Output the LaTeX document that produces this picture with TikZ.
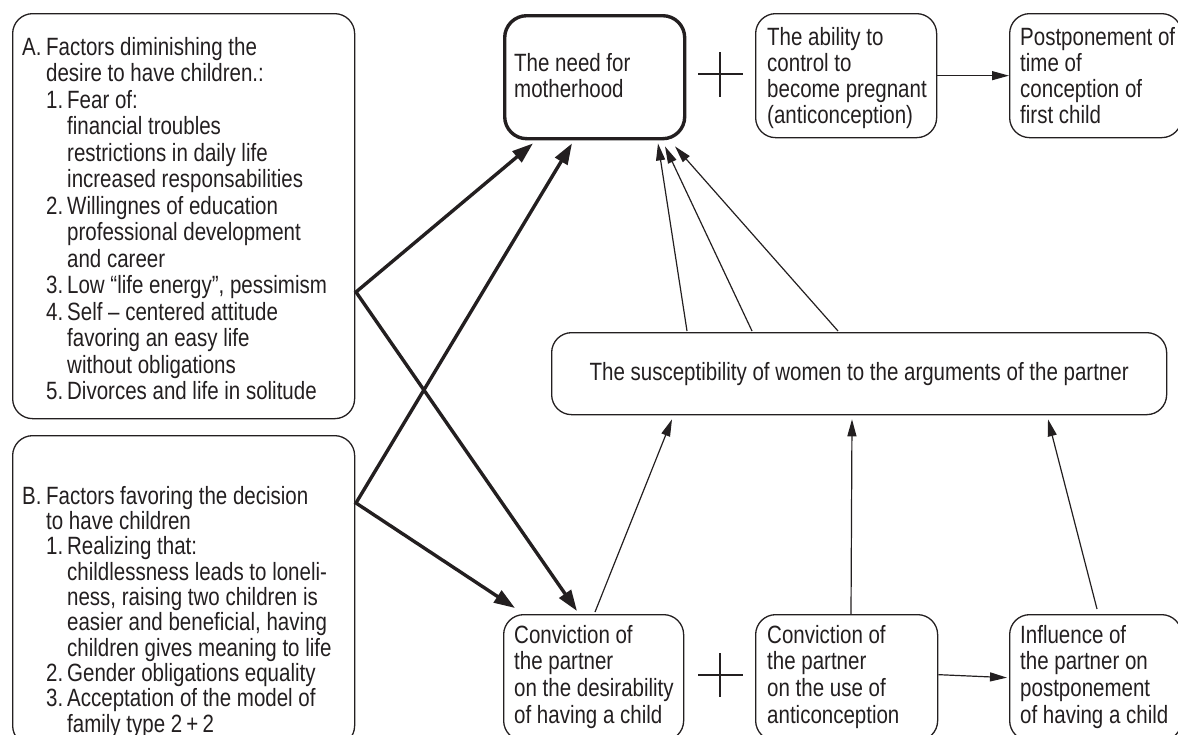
\documentclass[tikz,border=0pt]{standalone}
\usepackage{fontspec}
\setmainfont[FakeStretch=0.82]{Liberation Sans}
\usetikzlibrary{arrows.meta,calc}
\definecolor{ink}{RGB}{35,31,32}
\newcommand\mylines[1]{\begin{tabular}[t]{@{}l@{}}#1\end{tabular}}
\newcommand\lvA[1]{\makebox[24pt][l]{#1}}
\newcommand\lvB[1]{\makebox[21pt][l]{#1}}
\newcommand\inA{\hspace*{24pt}}
\newcommand\inB{\hspace*{45pt}}
\begin{document}
\begin{tikzpicture}[x=1pt,y=-1pt,
  box/.style={draw=ink, line width=1.3pt, rounded corners=20pt, inner sep=0pt, anchor=north west},
  boldbox/.style={box, line width=3.4pt, rounded corners=22pt},
  txt/.style={text=ink, inner sep=0pt, anchor=base west, font=\fontsize{25pt}{#1}\selectfont},
  txt/.default=26pt,
  thinarrow/.style={draw=ink, line width=1.2pt, -{Triangle[length=17pt,width=9pt]}},
  thinline/.style={draw=ink, line width=1.2pt},
  thickarrow/.style={draw=ink, line width=3.4pt, line join=miter,
     {Triangle[length=21pt,width=14pt]}-{Triangle[length=21pt,width=14pt]}}
]
\useasboundingbox (0,0) rectangle (1178,734);

% boxes
\node[box, minimum width=342pt, minimum height=405pt] (A) at (12,13) {};
\node[box, minimum width=342pt, minimum height=310pt] (B) at (12,435) {};
\node[boldbox, minimum width=180pt, minimum height=123pt] (need) at (503,14) {};
\node[box, minimum width=181pt, minimum height=124pt] (ability) at (755,13) {};
\node[box, minimum width=172pt, minimum height=124pt] (post) at (1009,13) {};
\node[box, minimum width=615pt, minimum height=82pt, text=ink,
      font=\fontsize{25pt}{26pt}\selectfont] (susc) at (551,332)
      {The susceptibility of women to the arguments of the partner};
\node[box, minimum width=180pt, minimum height=126pt] (conv1) at (503,614) {};
\node[box, minimum width=182pt, minimum height=126pt] (conv2) at (755,614) {};
\node[box, minimum width=172pt, minimum height=126pt] (infl) at (1009,614) {};

% texts
\node[txt=26.5pt] (Atext) at (22,55) {\mylines{%
\lvA{A.}Factors diminishing the\\
\inA desire to have children.:\\
\inA\lvB{1.}Fear of:\\
\inB financial troubles\\
\inB restrictions in daily life\\
\inB increased responsabilities\\
\inA\lvB{2.}Willingnes of education\\
\inB professional development\\
\inB and career\\
\inA\lvB{3.}Low “life energy”, pessimism\\
\inA\lvB{4.}Self – centered attitude\\
\inB favoring an easy life\\
\inB without obligations\\
\inA\lvB{5.}Divorces and life in solitude}};

\node[txt=24.1pt] (Btext) at (22,504) {\mylines{%
\lvA{B.}Factors favoring the decision\\
\inA to have children\\
\inA\lvB{1.}Realizing that:\\
\inB childlessness leads to loneli-\\
\inB ness, raising two children is\\
\inB easier and beneficial, having\\
\inB children gives meaning to life\\
\inA\lvB{2.}Gender obligations equality\\
\inA\lvB{3.}Acceptation of the model of\\
\inB family type 2\,+\,2}};

\node[txt] (needtxt) at (514,71) {\mylines{The need for\\motherhood}};
\node[txt] (abilitytxt) at (767,45) {\mylines{The ability to\\control to\\become pregnant\\(anticonception)}};
\node[txt] (posttxt) at (1020,45) {\mylines{Postponement of\\time of\\conception of\\first child}};
\node[txt=26.7pt] (conv1txt) at (514,643) {\mylines{Conviction of\\the partner\\on the desirability\\of having a child}};
\node[txt=26.7pt] (conv2txt) at (767,643) {\mylines{Conviction of\\the partner\\on the use of\\anticonception}};
\node[txt=26.7pt] (infltxt) at (1020,643) {\mylines{Influence of\\the partner on\\postponement\\of having a child}};

% plus signs
\coordinate (p1) at (720,74);
\coordinate (p2) at (720,675);
\draw[thinline] ($(p1)+(-22,0)$) -- ($(p1)+(23,0)$) ($(p1)+(0,-22)$) -- ($(p1)+(0,23)$);
\draw[thinline] ($(p2)+(-22,0)$) -- ($(p2)+(23,0)$) ($(p2)+(0,-22)$) -- ($(p2)+(0,22)$);

% horizontal arrows
\draw[thinarrow] (ability.east) -- (post.west);
\draw[thinarrow] ($(conv2.east)+(0,-3)$) -- ($(infl.west)+(-2,0)$);

% apex points
\coordinate (Ap) at (356,292);
\coordinate (Bp) at (356,503);

% thick arrows
\draw[thickarrow] ($(need.south west)+(30,3)$) -- (Ap) -- ($(conv1.north west)+(74,-3)$);
\draw[thickarrow] ($(need.south west)+(69,3)$) -- (Bp) -- ($(conv1.north west)+(12,-6)$);

% thin arrows into susceptibility
\draw[thinarrow] ($(conv1.north west)+(92,-2)$) -- ($(susc.south west)+(121,4)$);
\draw[thinarrow] ($(conv2.north west)+(96,0)$) -- ($(susc.south west)+(301,4)$);
\draw[thinarrow] ($(infl.north west)+(88,-5)$) -- ($(susc.south west)+(497,4)$);

% thin arrows into need
\draw[thinarrow] ($(susc.north west)+(136,-1)$) -- ($(need.south west)+(155,3)$);
\draw[thinarrow] ($(susc.north west)+(201,-1)$) -- ($(need.south west)+(162,6)$);
\draw[thinarrow] ($(susc.north west)+(287,-1)$) -- ($(need.south west)+(172,6)$);
\end{tikzpicture}
\end{document}
